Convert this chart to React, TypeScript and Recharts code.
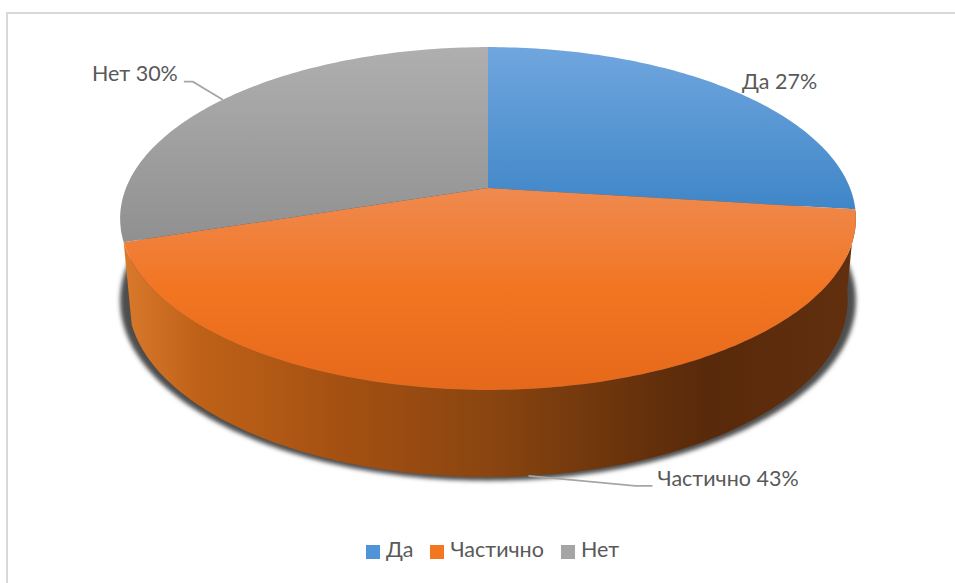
import { PieChart, Pie, Legend } from "recharts";

const categories = ["Да", "Частично", "Нет"];
const shares = [27, 43, 30];
const colors = ["#4f94d6", "#f37721", "#a5a5a5"];

// gradient stops of the lit top face, top to bottom
const topStops = [
  ["#70a6de", "#3f86c8"],
  ["#ef8a50", "#f27522", "#e5691a"],
  ["#afafaf", "#909090"],
];

// offsets of the label text from the rim point of each slice
const labelDx = [11, 129, -45];
const labelDy = [-1, 10, -19];
const labelAnchor = ["start", "start", "end"];
// leader lines: elbow and end offsets from the rim point, empty means no leader
const leaderElbow = [null, [107, 10], [-30, -18]];
const leaderEnd = [null, [124, 10], [-39, -18]];

const rows = categories.map((name, i) => ({ name, value: shares[i], fill: colors[i] }));

const FONT = "Lato, sans-serif";
const CX = 488;
const CY = 188;
const RX = 362;
const TILT = 166 / 362;
const PERSPECTIVE = 0.178;
const DEPTH = 80.5;
const BASE_RX = 354;
const BASE_RY = 171.4;

// clock angle in degrees from 12 o'clock, projected on to the tilted disc
function rim(clock: number, rx: number, ry: number, cy: number) {
  const a = (clock * Math.PI) / 180;
  const u = Math.sin(a);
  const v = -Math.cos(a);
  const w = 1 - PERSPECTIVE * v;
  return [CX + (rx * u) / w, cy + (ry * v) / w];
}

function arc(from: number, to: number, rx: number, ry: number, cy: number) {
  const pts: number[][] = [];
  const step = from < to ? 1 : -1;
  for (let c = from; step > 0 ? c < to : c > to; c += step) pts.push(rim(c, rx, ry, cy));
  pts.push(rim(to, rx, ry, cy));
  return pts;
}

const toD = (pts: number[][]) =>
  "M" + pts.map((p) => `${p[0].toFixed(1)},${p[1].toFixed(1)}`).join("L") + "Z";

function TopFace(props: any) {
  const { startAngle, endAngle, outerRadius, index, cy } = props;
  const from = 90 - startAngle;
  const to = 90 - endAngle;
  const ry = outerRadius * TILT;
  const d = toD([[CX, cy], ...arc(from, to, outerRadius, ry, cy)]);
  const stops = topStops[index];
  const id = `top-${index}`;
  return (
    <g>
      <defs>
        <linearGradient id={id} x1="0" y1="0" x2="0" y2="1">
          {stops.map((c, i) => (
            <stop key={i} offset={i / (stops.length - 1)} stopColor={c} />
          ))}
        </linearGradient>
      </defs>
      <path d={d} fill={`url(#${id})`} stroke="none" />
    </g>
  );
}

function SideWall(props: any) {
  const { startAngle, endAngle, outerRadius, cy } = props;
  const from = 90 - startAngle;
  const to = 90 - endAngle;
  const mid = (from + to) / 2;
  // only slices facing the viewer show a wall
  if (mid < 90 || mid > 270) return null;
  const ry = outerRadius * TILT;
  const upper = arc(from, to, outerRadius, ry, cy);
  const lower = arc(to, from, BASE_RX, BASE_RY, cy + DEPTH);
  const shadow = arc(0, 360, BASE_RX + 8, BASE_RY + 3, cy + DEPTH);
  return (
    <g>
      <defs>
        <filter id="wall-shadow" x="-5%" y="-5%" width="110%" height="110%">
          <feGaussianBlur stdDeviation="2.2" />
        </filter>
        <linearGradient id="wall" x1="0" y1="0" x2="1" y2="0">
          <stop offset="0" stopColor="#d9792c" />
          <stop offset="0.1" stopColor="#bf6218" />
          <stop offset="0.3" stopColor="#a45012" />
          <stop offset="0.5" stopColor="#8a4510" />
          <stop offset="0.68" stopColor="#6a340c" />
          <stop offset="0.8" stopColor="#58290a" />
          <stop offset="1" stopColor="#62300f" />
        </linearGradient>
      </defs>
      <path d={toD(shadow)} fill="#4d4d4d" filter="url(#wall-shadow)" />
      <path d={toD([...upper, ...lower])} fill="url(#wall)" stroke="none" />
    </g>
  );
}

function SliceLabel(props: any) {
  const { index, midAngle, outerRadius, cy, name, value } = props;
  const clock = 90 - midAngle;
  const front = clock > 90 && clock < 270;
  const p = front
    ? rim(clock, BASE_RX, BASE_RY, cy + DEPTH)
    : rim(clock, outerRadius, outerRadius * TILT, cy);
  const elbow = leaderElbow[index];
  const end = leaderEnd[index];
  return (
    <g>
      {elbow && end && (
        <polyline
          points={`${p[0]},${p[1]} ${p[0] + elbow[0]},${p[1] + elbow[1]} ${p[0] + end[0]},${p[1] + end[1]}`}
          fill="none"
          stroke="#a6a6a6"
          strokeWidth={1.8}
        />
      )}
      <text
        x={p[0] + labelDx[index]}
        y={p[1] + labelDy[index]}
        textAnchor={labelAnchor[index] as any}
        fontFamily={FONT}
        fontSize={21.5}
        fill="#595959"
      >
        {`${name} ${value}%`}
      </text>
    </g>
  );
}

export default function App() {
  return (
    <div style={{ position: "absolute", left: 0, top: 0, width: 955, height: 583, overflow: "hidden", background: "#fff" }}>
      <div
        style={{
          position: "absolute",
          left: 6,
          top: 12,
          width: 960,
          height: 600,
          borderTop: "2px solid #d9d9d9",
          borderLeft: "2px solid #d9d9d9",
        }}
      />
      <PieChart
        width={955}
        height={583}
        margin={{ top: 0, right: 0, bottom: 0, left: 0 }}
        style={{ position: "absolute", left: 0, top: 0 }}
      >
        <Pie
          data={rows}
          dataKey="value"
          nameKey="name"
          cx={CX}
          cy={CY}
          outerRadius={RX}
          startAngle={90}
          endAngle={-270}
          shape={SideWall}
          legendType="none"
          isAnimationActive={false}
        />
        <Pie
          data={rows}
          dataKey="value"
          nameKey="name"
          cx={CX}
          cy={CY}
          outerRadius={RX}
          startAngle={90}
          endAngle={-270}
          shape={TopFace}
          label={SliceLabel}
          labelLine={false}
          isAnimationActive={false}
        />
        <Legend
          itemSorter={null}
          iconType="square"
          iconSize={14}
          wrapperStyle={{ position: "absolute", left: 0, top: 536, width: 1002, fontFamily: FONT, fontSize: 21.5 }}
          formatter={(v: string) => <span style={{ color: "#595959", marginLeft: 2, marginRight: 7 }}>{v}</span>}
        />
      </PieChart>
    </div>
  );
}
